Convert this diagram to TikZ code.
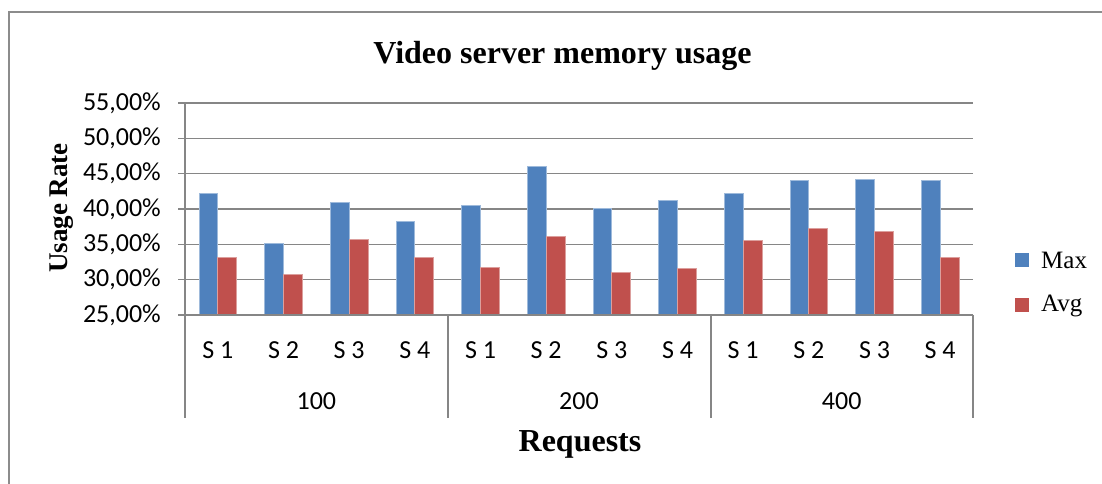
\documentclass[tikz,border=0pt]{standalone}
\usepackage{fontspec}
\setmainfont{Liberation Serif}
\newfontfamily\axisfont{Carlito}

\definecolor{maxblue}{HTML}{4F81BD}
\definecolor{avgred}{HTML}{C0504D}
\definecolor{gridgray}{HTML}{868686}
\definecolor{framegray}{HTML}{8C8C8C}

\tikzset{
  gridline/.style={draw=gridgray, line width=1.6pt},
  axisline/.style={draw=gridgray, line width=1.6pt},
  maxbar/.style={fill=maxblue, draw=maxblue!55!white, line width=0.7pt},
  avgbar/.style={fill=avgred, draw=avgred!55!white, line width=0.7pt},
  ticklabel/.style={font=\axisfont\fontsize{26}{26}\selectfont, inner sep=0pt},
  charttitle/.style={font=\bfseries\fontsize{32}{32}\selectfont, inner sep=0pt},
  axistitle/.style={font=\bfseries\fontsize{27}{27}\selectfont, inner sep=0pt},
  legendtext/.style={font=\fontsize{25}{25}\selectfont, inner sep=0pt, anchor=west},
}

\begin{document}
\begin{tikzpicture}[x=1pt, y=-1pt]
\useasboundingbox (0,0) rectangle (1102,483);
\clip (0,0) rectangle (1102,483);

% chart frame
\draw[framegray, line width=1.3pt] (9,12) rectangle (1130,510);

% title
\node[charttitle, anchor=base] (title) at (562.5,63.3) {Video server memory usage};

% horizontal gridlines and value labels (25% .. 55%, 35.333 units per 5%)
\foreach \v [count=\k from 0] in {25,30,35,40,45,50,55} {
  \pgfmathsetmacro{\yy}{315-\k*35.333}
  \draw[gridline] (178,\yy) -- (973,\yy);
  \node[ticklabel, anchor=east] (yl\k) at (161,\yy) {\v,00\%};
}

% bars: category width 65.667, bar width 18.76
\foreach \mx/\av [count=\i from 0] in {
  42.2/33.2, 35.2/30.8, 41.0/35.7, 38.25/33.1,
  40.45/31.75, 46.05/36.2, 40.05/31.05, 41.2/31.6,
  42.2/35.6, 44.05/37.25, 44.2/36.9, 44.1/33.15} {
  \pgfmathsetmacro{\cx}{185+(\i+0.5)*65.667}
  \pgfmathsetmacro{\ym}{315-(\mx-25)*7.0667}
  \pgfmathsetmacro{\ya}{315-(\av-25)*7.0667}
  \path[maxbar] (\cx-18.76,315) rectangle (\cx,\ym);
  \path[avgbar] (\cx,315) rectangle (\cx+18.76,\ya);
}

% axes and category dividers
\draw[axisline] (178,315) -- (973,315);
\draw[axisline] (185,103) -- (185,418);
\foreach \x in {448,711,973} \draw[axisline] (\x,315) -- (\x,418);

% category labels
\foreach \g [count=\j from 0] in {100,200,400} {
  \foreach \s [count=\n from 0] in {1,2,3,4} {
    \pgfmathsetmacro{\cx}{185+(\j*4+\n+0.5)*65.667}
    \node[ticklabel] (c\j\s) at (\cx,350) {S \s};
  }
  \pgfmathsetmacro{\gx}{185+(\j*4+2)*65.667}
  \node[ticklabel] (g\g) at (\gx,401) {\g};
}

% axis titles
\node[axistitle, anchor=base, rotate=90] (ytitle) at (67.5,208) {Usage Rate};
\node[charttitle, anchor=base] (xtitle) at (580,451.7) {Requests};

% legend
\fill[maxblue] (1015,253.3) rectangle (1029,267.3);
\node[legendtext] (lmax) at (1041,260) {Max};
\fill[avgred] (1015,298.3) rectangle (1029,312.3);
\node[legendtext] (lavg) at (1041,305.5) {Avg};
\end{tikzpicture}
\end{document}
